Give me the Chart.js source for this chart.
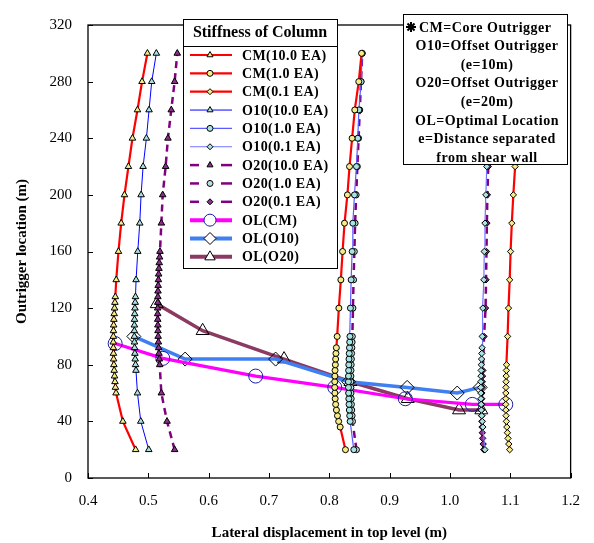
<!DOCTYPE html>
<html>
<head>
<meta charset="utf-8">
<script src="https://cdn.jsdelivr.net/npm/chart.js@4"></script>
<style>body{margin:0;background:#fff}</style>
</head>
<body>
<canvas id="chart" width="594" height="543"></canvas>
<script>
// outrigger heights (m) and top displacement (m) for each column stiffness
const hCM10 = [20,40,60,64,68,72,76,80,84,88,92,96,100,104,108,112,116,120,124,128,140,160,180,200,220,240,260,280,300];
const xCM10 = [0.479,0.4578,0.4465,0.4455,0.4447,0.4440,0.4434,0.4429,0.4425,0.4422,0.4420,0.4419,0.4420,0.4422,0.4425,0.4429,0.4434,0.4440,0.4446,0.4453,0.4468,0.4505,0.455,0.4605,0.467,0.4737,0.482,0.4896,0.4985];

const hCM1 = [20,36,40,44,48,52,56,60,64,68,72,76,80,84,88,92,100,120,140,160,180,200,220,240,260,280,300];
const xCM1 = [0.8268,0.818,0.8155,0.8135,0.8118,0.8105,0.8097,0.8092,0.809,0.809,0.8092,0.8095,0.81,0.8105,0.811,0.8117,0.813,0.8158,0.8191,0.822,0.8252,0.830,0.8335,0.8378,0.8422,0.8488,0.8535];

const hCM01 = [20,24,28,32,36,40,44,48,52,56,60,64,68,72,76,80,100,120,140,160,180,200,220,240,260,280,300];
const xCM01 = [1.099,1.0975,1.0962,1.0952,1.0943,1.0935,1.093,1.0926,1.0925,1.0925,1.0926,1.0928,1.093,1.0932,1.0935,1.0938,1.0955,1.097,1.099,1.1005,1.1025,1.105,1.108,1.111,1.114,1.117,1.12];

const hO10_10 = [20,40,60,76,80,84,88,92,96,100,104,108,112,116,120,124,128,140,160,180,200,220,240,260,280,300];
const xO10_10 = [0.5007,0.4875,0.482,0.4795,0.4788,0.4782,0.4777,0.4773,0.4770,0.4768,0.4768,0.4769,0.4771,0.4774,0.4778,0.4782,0.4787,0.4797,0.4825,0.4858,0.488,0.4913,0.4968,0.5012,0.5056,0.5133];

const hO10_1 = [20,40,44,48,52,56,60,64,68,72,76,80,84,88,92,96,100,120,140,160,180,200,220,240,260,280,300];
const xO10_1 = [0.8406,0.8345,0.8338,0.8332,0.8327,0.8323,0.832,0.8318,0.8317,0.8318,0.832,0.8323,0.8326,0.833,0.8334,0.8338,0.8342,0.835,0.8362,0.8378,0.839,0.8417,0.845,0.8472,0.849,0.8527,0.8545];

const hO10_01 = [20,36,40,44,48,52,56,60,64,68,72,76,80,84,88,92,100,120,140,160,180,200,220,240,260,280,300];
const xO10_01 = [1.058,1.0545,1.0535,1.0527,1.0521,1.0517,1.0514,1.0512,1.0511,1.0512,1.0514,1.0517,1.052,1.0524,1.0528,1.0532,1.0535,1.0545,1.0562,1.0568,1.058,1.0595,1.061,1.0625,1.064,1.0655,1.067];

const hO20_10 = [20,40,60,80,84,88,92,96,100,104,108,112,116,120,124,128,132,136,140,144,148,152,156,160,180,200,220,240,260,280,300];
const xO20_10 = [0.5436,0.531,0.5216,0.5188,0.5182,0.5176,0.5171,0.5167,0.5163,0.516,0.5158,0.5156,0.5155,0.5155,0.5156,0.5158,0.516,0.5163,0.5167,0.5171,0.5176,0.5181,0.5187,0.5193,0.5216,0.5238,0.5287,0.5325,0.538,0.5436,0.548];

const hO20_1 = [20,40,44,48,52,56,60,64,68,72,76,80,84,88,92,96,100,120,140,160,180,200,220,240,260,280,300];
const xO20_1 = [0.845,0.8385,0.8378,0.8372,0.8367,0.8363,0.836,0.8358,0.8357,0.8358,0.836,0.8363,0.8366,0.837,0.8374,0.8378,0.8382,0.8392,0.8402,0.8415,0.8428,0.8445,0.8465,0.8485,0.8505,0.8525,0.8545];

const hO20_01 = [20,24,28,32,36,40,44,48,52,56,60,64,68,72,76,100,120,140,160,180,200,220,240,260,280,300];
const xO20_01 = [1.056,1.055,1.0542,1.0536,1.0532,1.0529,1.0527,1.0526,1.0526,1.0527,1.0529,1.0532,1.0536,1.054,1.0545,1.0565,1.059,1.0598,1.0605,1.0612,1.062,1.0635,1.065,1.0665,1.068,1.0695];

// optimal locations
const olCMx = [0.445,0.524,0.678,0.809,0.926,1.037,1.0925];
const olCMy = [95,84.5,72,64,56,52,52];
const olO10x = [0.476,0.561,0.711,0.832,0.929,1.012,1.05];
const olO10y = [100,84,84,68,64,60,64];
const olO20x = [0.514,0.59,0.725,0.835,0.93,1.015,1.052];
const olO20y = [123,104,84,68,56,48,48];

const xTicks = [0.4,0.5,0.6,0.7,0.8,0.9,1.0,1.1,1.2];
const yTicks = [0,40,80,120,160,200,240,280,320];

const notes = ['CM=Core Outrigger','O10=Offset Outrigger','(e=10m)','O20=Offset Outrigger','(e=20m)','OL=Optimal Location','e=Distance separated','from shear wall'];

function pts(xs, hs) {
    const out = [];
    for (let i = 0; i < xs.length; i++) out.push({x: xs[i], y: hs[i]});
    return out;
}

const serif = "'Times New Roman', 'Liberation Serif', serif";
const yellow = '#f6ec84';
const cyan = '#a9e2e2';

function series(label, xs, hs, color, width, style, fill, radius, dash) {
    return {
        label: label,
        data: pts(xs, hs),
        showLine: true,
        borderColor: color,
        borderWidth: width,
        borderDash: dash || [],
        pointStyle: style,
        pointRadius: radius,
        pointBackgroundColor: fill,
        pointBorderColor: '#000',
        pointBorderWidth: 1
    };
}

const datasets = [
    series('CM(10.0 EA)', xCM10, hCM10, '#ff0000', 2.2, 'triangle', yellow, 3.8),
    series('CM(1.0 EA)', xCM1, hCM1, '#ff0000', 2.2, 'circle', yellow, 3),
    series('CM(0.1 EA)', xCM01, hCM01, '#ff0000', 2.2, 'rectRot', yellow, 3.2),
    series('O10(10.0 EA)', xO10_10, hO10_10, '#0000ff', 1, 'triangle', cyan, 3.8),
    series('O10(1.0 EA)', xO10_1, hO10_1, '#5a5aff', 1.2, 'circle', cyan, 3),
    series('O10(0.1 EA)', xO10_01, hO10_01, '#7373ff', 1.2, 'rectRot', cyan, 3.2),
    series('O20(10.0 EA)', xO20_10, hO20_10, '#800080', 2.5, 'triangle', '#8a2f8a', 3.8, [7, 5]),
    series('O20(1.0 EA)', xO20_1, hO20_1, '#800080', 2.5, 'circle', '#b9dede', 3, [7, 5]),
    series('O20(0.1 EA)', xO20_01, hO20_01, '#800080', 2.5, 'rectRot', '#8a2f8a', 3.2, [7, 5]),
    series('OL(CM)', olCMx, olCMy, '#ff00ff', 3.2, 'circle', 'rgba(0,0,0,0)', 7),
    series('OL(O10)', olO10x, olO10y, '#3f7ff2', 3.5, 'rectRot', 'rgba(0,0,0,0)', 7),
    series('OL(O20)', olO20x, olO20y, '#8b3a62', 3.5, 'triangle', 'rgba(0,0,0,0)', 7.5)
];
datasets[9].pointBorderColor = '#1c1ca8';

function marker(ctx, style, x, y, r, fill, stroke) {
    ctx.save();
    ctx.setLineDash([]);
    ctx.beginPath();
    if (style === 'circle') {
        ctx.arc(x, y, r, 0, Math.PI * 2);
    } else if (style === 'triangle') {
        for (let k = 0; k < 3; k++) {
            const a = k * 2 * Math.PI / 3;
            const px = x + Math.sin(a) * r, py = y - Math.cos(a) * r;
            if (k === 0) ctx.moveTo(px, py); else ctx.lineTo(px, py);
        }
        ctx.closePath();
    } else {
        ctx.moveTo(x, y - r); ctx.lineTo(x + r, y); ctx.lineTo(x, y + r); ctx.lineTo(x - r, y);
        ctx.closePath();
    }
    ctx.fillStyle = fill;
    ctx.fill();
    ctx.strokeStyle = stroke;
    ctx.lineWidth = 1;
    ctx.stroke();
    ctx.restore();
}

const boxes = {
    id: 'boxes',
    afterDraw(chart) {
        const ctx = chart.ctx;
        const a = chart.chartArea;
        const xs = chart.scales.x, ys = chart.scales.y;
        ctx.save();
        // frame and inward ticks
        ctx.strokeStyle = '#000';
        ctx.lineWidth = 1.3;
        ctx.strokeRect(a.left, a.top, a.right - a.left, a.bottom - a.top);
        ctx.lineWidth = 1;
        xTicks.forEach(v => {
            const px = Math.round(xs.getPixelForValue(v)) + 0.5;
            ctx.beginPath(); ctx.moveTo(px, a.bottom); ctx.lineTo(px, a.bottom - 5); ctx.stroke();
        });
        yTicks.forEach(v => {
            const py = Math.round(ys.getPixelForValue(v)) + 0.5;
            ctx.beginPath(); ctx.moveTo(a.left, py); ctx.lineTo(a.left + 5, py); ctx.stroke();
        });

        // stiffness legend
        ctx.fillStyle = '#fff';
        ctx.fillRect(183, 19, 154, 249);
        ctx.strokeStyle = '#000';
        ctx.lineWidth = 1;
        ctx.strokeRect(183.5, 19.5, 154, 249);
        ctx.beginPath(); ctx.moveTo(183, 46.5); ctx.lineTo(337, 46.5); ctx.stroke();
        ctx.fillStyle = '#000';
        ctx.font = 'bold 16px ' + serif;
        ctx.textAlign = 'center';
        ctx.textBaseline = 'middle';
        ctx.fillText('Stiffness of Column', 260, 33);
        ctx.font = 'bold 14px ' + serif;
        ctx.letterSpacing = '0.4px';
        ctx.textAlign = 'left';
        datasets.forEach((d, i) => {
            const y = 55 + i * 18.35;
            ctx.save();
            ctx.strokeStyle = d.borderColor;
            ctx.lineWidth = i >= 9 ? 4 : d.borderWidth;
            if (d.borderDash.length) {
                ctx.beginPath(); ctx.moveTo(190, y); ctx.lineTo(199, y); ctx.stroke();
                ctx.beginPath(); ctx.moveTo(221, y); ctx.lineTo(232, y); ctx.stroke();
            } else {
                ctx.beginPath(); ctx.moveTo(190, y); ctx.lineTo(232, y); ctx.stroke();
            }
            ctx.restore();
            const r = i >= 9 ? 6 : (d.pointStyle === 'triangle' ? 3.5 : 3);
            const f = i >= 9 ? '#fff' : d.pointBackgroundColor;
            marker(ctx, d.pointStyle, 210, y, r, f, d.pointBorderColor);
            ctx.fillStyle = '#000';
            ctx.fillText(d.label, 242, y + 1);
        });

        // notes box
        ctx.fillStyle = '#fff';
        ctx.fillRect(403, 14, 164, 150);
        ctx.strokeStyle = '#000';
        ctx.lineWidth = 1;
        ctx.strokeRect(403.5, 14.5, 164, 150);
        ctx.fillStyle = '#000';
        ctx.font = 'bold 14px ' + serif;
        ctx.letterSpacing = '0.5px';
        notes.forEach((t, i) => {
            const y = 27 + i * 18.6;
            if (i === 0) {
                ctx.textAlign = 'left';
                ctx.fillText(t, 419, y + 1);
            } else {
                ctx.textAlign = 'center';
                ctx.fillText(t, 487, y + 1);
            }
        });
        ctx.letterSpacing = '0px';
        // star marker in front of the first note
        ctx.strokeStyle = '#000';
        ctx.lineWidth = 2;
        for (let k = 0; k < 4; k++) {
            const ang = k * Math.PI / 4;
            ctx.beginPath();
            ctx.moveTo(411 - Math.cos(ang) * 5, 27 - Math.sin(ang) * 5);
            ctx.lineTo(411 + Math.cos(ang) * 5, 27 + Math.sin(ang) * 5);
            ctx.stroke();
        }
        ctx.restore();
    }
};

new Chart(document.getElementById('chart'), {
    type: 'scatter',
    data: {datasets: datasets},
    options: {
        responsive: false,
        animation: false,
        layout: {padding: {top: 12, right: 21, left: 0, bottom: 0}},
        plugins: {legend: {display: false}, tooltip: {enabled: false}},
        scales: {
            x: {
                min: 0.4, max: 1.2,
                afterFit: s => { s.height = 65; },
                afterBuildTicks: s => { s.ticks = xTicks.map(v => ({value: v})); },
                grid: {display: false, drawTicks: false},
                border: {display: false},
                ticks: {color: '#000', padding: 14, font: {family: serif, size: 15}, callback: v => v.toFixed(1)},
                title: {display: true, text: 'Lateral displacement in top level (m)', color: '#000',
                        font: {family: serif, size: 15, weight: 'bold'}, padding: {top: 0, bottom: 1}}
            },
            y: {
                min: 0, max: 320,
                afterFit: s => { s.width = 88; },
                afterBuildTicks: s => { s.ticks = yTicks.map(v => ({value: v})); },
                grid: {display: false, drawTicks: false},
                border: {display: false},
                ticks: {color: '#000', padding: 16, font: {family: serif, size: 15}},
                title: {display: true, text: 'Outrigger location (m)', color: '#000',
                        font: {family: serif, size: 15, weight: 'bold'}, padding: {top: 13, bottom: 0}}
            }
        }
    },
    plugins: [boxes]
});
</script>
</body>
</html>
